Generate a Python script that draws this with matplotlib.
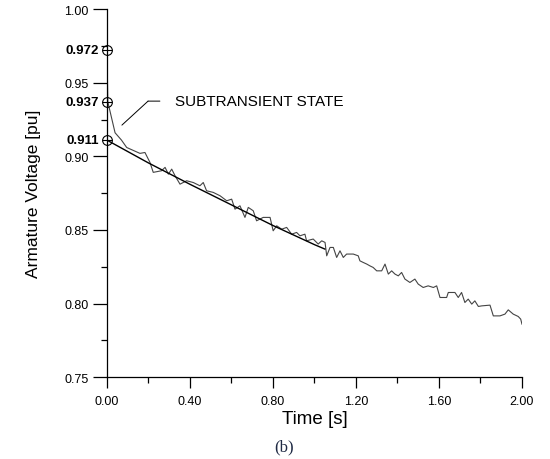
import matplotlib
matplotlib.use("Agg")
import matplotlib.pyplot as plt
from matplotlib.ticker import MultipleLocator

plt.rcParams['font.family'] = ['Liberation Sans', 'DejaVu Sans']

meas_t = [0.000, 0.004, 0.039, 0.070, 0.095, 0.127, 0.159, 0.183, 0.207, 0.223,
          0.263, 0.280, 0.296, 0.312, 0.328, 0.352, 0.384, 0.416, 0.448, 0.464,
          0.480, 0.512, 0.545, 0.577, 0.601, 0.617, 0.641, 0.665, 0.681, 0.705,
          0.721, 0.753, 0.786, 0.801, 0.818, 0.842, 0.866, 0.890, 0.914, 0.930,
          0.954, 0.962, 0.994, 1.018, 1.035, 1.051, 1.059, 1.075, 1.091, 1.107,
          1.123, 1.139, 1.155, 1.187, 1.211, 1.219, 1.235, 1.252, 1.267, 1.283,
          1.300, 1.324, 1.340, 1.356, 1.372, 1.388, 1.404, 1.420, 1.436, 1.460,
          1.484, 1.500, 1.524, 1.548, 1.573, 1.589, 1.605, 1.637, 1.645, 1.677,
          1.693, 1.709, 1.725, 1.741, 1.758, 1.773, 1.790, 1.806, 1.846, 1.862,
          1.894, 1.918, 1.934, 1.958, 1.982, 1.994, 2.000]
meas_v = [0.972, 0.937, 0.916, 0.911, 0.906, 0.904, 0.902, 0.9026, 0.8959, 0.8891,
          0.8902, 0.8925, 0.8879, 0.8913, 0.8868, 0.8811, 0.8834, 0.8822, 0.8800, 0.8822,
          0.8766, 0.8755, 0.8732, 0.8698, 0.8709, 0.8641, 0.8664, 0.8585, 0.8653, 0.8630,
          0.8562, 0.8585, 0.8585, 0.8494, 0.8528, 0.8505, 0.8517, 0.8471, 0.8483, 0.8460,
          0.8471, 0.8426, 0.8438, 0.8404, 0.8426, 0.8415, 0.8324, 0.8381, 0.8381, 0.8313,
          0.8358, 0.8313, 0.8336, 0.8336, 0.8324, 0.8290, 0.8279, 0.8268, 0.8256, 0.8245,
          0.8222, 0.8222, 0.8268, 0.8200, 0.8222, 0.8200, 0.8188, 0.8211, 0.8166, 0.8143,
          0.8166, 0.8132, 0.8109, 0.8120, 0.8109, 0.8120, 0.8041, 0.8041, 0.8075, 0.8075,
          0.8041, 0.8075, 0.8007, 0.8030, 0.7996, 0.8018, 0.7980, 0.7984, 0.7989, 0.7916,
          0.7916, 0.7928, 0.7957, 0.7928, 0.7912, 0.7894, 0.7860]

# fitted transient curve
fit_t = [0.0, 0.2, 0.4, 0.6, 0.8, 1.0, 1.05]
fit_v = [0.911, 0.8955, 0.881, 0.867, 0.853, 0.840, 0.837]

# marked voltage levels at t = 0
mark_v = [0.972, 0.937, 0.911]

fig = plt.figure(figsize=(5.5, 4.6), dpi=100)
ax = fig.add_axes([0.1945, 0.178, 0.7545, 0.8])

ax.plot(meas_t, meas_v, color='#444444', lw=0.8)
ax.plot(fit_t, fit_v, color='black', lw=1.0)

for v in mark_v:
    ax.plot(0, v, marker='o', ms=7, mfc='none', mec='black', mew=0.8, clip_on=False)
    ax.plot(0, v, marker='_', ms=7, mec='black', mew=0.8, clip_on=False)
    ax.annotate(f'{v:.3f}', xy=(0, v), xytext=(-6, 0), textcoords='offset points',
                ha='right', va='center', fontsize=9.5, fontweight='bold')

# subtransient state label with leader line
ax.text(0.328, 0.9375, 'SUBTRANSIENT STATE', fontsize=11, va='center', ha='left')
ax.annotate('', xy=(0.198, 0.9375), xytext=(0.255, 0.9375),
            arrowprops=dict(arrowstyle='-', color='black', lw=0.7, shrinkA=0, shrinkB=0))
ax.annotate('', xy=(0.072, 0.9212), xytext=(0.198, 0.9375),
            arrowprops=dict(arrowstyle='-', color='black', lw=0.7, shrinkA=0, shrinkB=0))

ax.set_xlim(0, 2.0)
ax.set_ylim(0.75, 1.00)
ax.xaxis.set_major_locator(MultipleLocator(0.4))
ax.xaxis.set_minor_locator(MultipleLocator(0.2))
ax.yaxis.set_major_locator(MultipleLocator(0.05))
ax.yaxis.set_minor_locator(MultipleLocator(0.025))
ax.set_xticklabels([f'{x:.2f}' for x in ax.get_xticks()])
ax.set_yticklabels([f'{y:.2f}' for y in ax.get_yticks()])

ax.tick_params(axis='both', which='major', direction='out', length=10, width=0.9,
               labelsize=9, pad=3)
ax.tick_params(axis='both', which='minor', direction='out', length=4.5, width=0.9)
ax.tick_params(axis='x', which='major', length=8, pad=5)

for s in ['top', 'right']:
    ax.spines[s].set_visible(False)
for s in ['left', 'bottom']:
    ax.spines[s].set_linewidth(0.9)

ax.set_xlabel('Time [s]', fontsize=13.5, labelpad=2)
ax.set_ylabel('Armature Voltage [pu]', fontsize=12.5, labelpad=17)

fig.text(0.517, 0.028, '(b)', fontsize=12, family='Liberation Serif',
         color='#1f2a44', ha='center', va='center')

fig.savefig('out.png', dpi=100)
